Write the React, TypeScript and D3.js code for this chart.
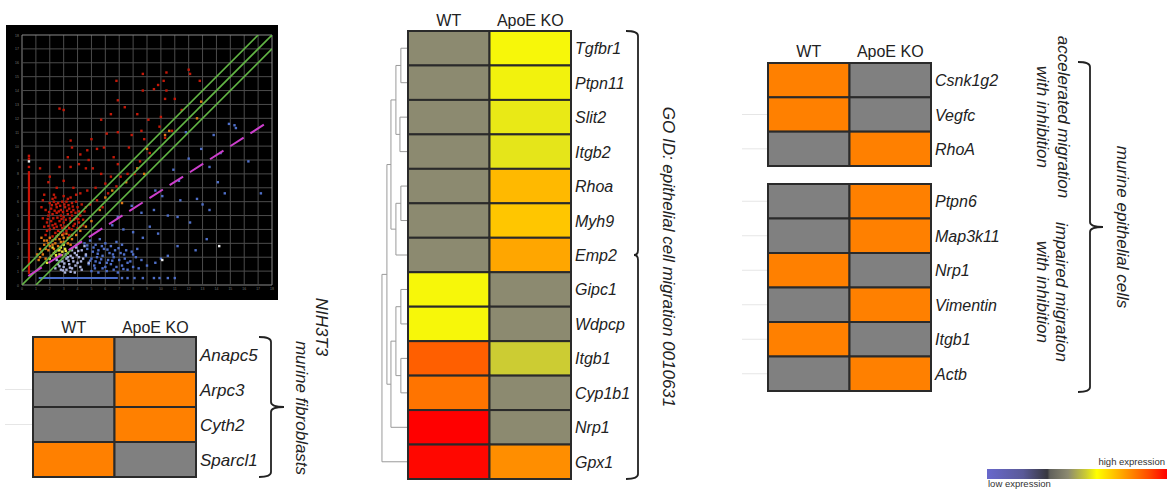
import React from 'react';
import * as d3 from 'd3';

// ---- scatter plot (log expression WT vs ApoE KO) ----
const scatterTicks = d3.range(0, 19);

const redPts = [
  [12.0,15.5],[12.1,15.2],[10.4,15.3],[8.7,15.2],[10.2,14.7],[9.8,14.4],[9.5,14.1],[10.4,14.0],[12.8,14.7],[8.7,14.0],
  [6.8,14.7],[6.9,13.3],[7.4,12.8],[6.4,12.3],[5.7,11.9],[2.7,12.7],[3.0,12.6],[10.3,13.4],[11.0,13.4],[10.0,12.1],
  [8.3,12.3],[9.1,11.9],[8.6,11.1],[9.9,11.4],[10.8,11.1],[6.9,11.0],[6.1,10.9],[5.0,10.5],[3.5,10.4],[3.6,9.9],
  [4.2,9.4],[4.7,9.7],[5.4,9.8],[5.9,9.9],[7.7,9.9],[8.8,10.5],[10.3,10.6],[6.6,9.2],[6.9,8.7],[4.8,9.0],
  [4.1,8.7],[6.4,7.8],[5.7,8.0],[5.1,8.4],[4.6,8.4],[3.5,8.5],[2.7,8.5],[2.0,7.8],[1.3,8.4],[3.0,7.5],
  [3.7,7.0],[2.5,7.0],[1.9,7.4],[1.5,6.1],[7.1,7.8],[8.1,8.0],[7.6,8.0],[6.0,7.3],[5.3,7.0],[4.7,6.8],
  [4.2,6.6],[5.4,6.1],[9.2,9.5],[8.5,8.9],[11.5,12.6],[7.9,10.8],[3.3,9.2],[2.3,6.5],[6.2,6.6],[6.8,7.1],
  [5.8,5.6],[4.9,5.8],
  [2.0,5.9],[2.3,6.0],[2.6,5.9],[2.9,6.0],[3.2,6.0],[3.6,5.9],[3.9,6.0],[2.1,5.5],[2.5,5.6],[2.8,5.4],
  [3.1,5.6],[3.4,5.5],[3.7,5.4],[4.0,5.6],[1.9,5.0],[2.2,5.1],[2.5,5.2],[2.8,5.0],[3.0,4.9],[3.3,5.1],
  [3.6,5.0],[3.9,4.8],[4.2,5.0],[1.8,4.5],[2.1,4.6],[2.4,4.4],[2.7,4.6],[3.0,4.5],[3.3,4.3],[3.5,4.6],
  [3.8,4.4],[4.1,4.5],[2.0,4.0],[2.3,4.1],[2.6,3.9],[2.9,4.1],[3.2,3.9],[3.6,4.0],[4.0,4.1],[4.4,4.3],
  [1.7,3.6],[2.2,3.5],[3.4,3.6],[1.6,4.2],[4.5,5.3],[1.7,5.4],[2.4,6.3],[3.0,6.4],[3.5,6.3],[4.3,5.8],
  [1.6,6.5],[3.9,6.5],
  [2.15,5.75],[2.45,5.8],[2.75,5.7],[3.05,5.8],[3.35,5.75],[3.65,5.65],[1.95,5.25],[2.35,5.35],[2.65,5.3],[2.95,5.25],
  [3.25,5.35],[3.55,5.25],[3.85,5.2],[4.1,5.3],[1.85,4.75],[2.25,4.8],[2.55,4.85],[2.85,4.75],[3.15,4.7],[3.45,4.8],
  [3.75,4.7],[4.05,4.75],[1.9,4.25],[2.2,4.3],[2.5,4.2],[2.8,4.3],[3.1,4.2],[3.4,4.1],[3.7,4.25],[4.2,4.2],
  [1.8,3.9],[2.4,3.75],[2.75,3.8],[3.0,3.7],[1.5,4.8],[1.4,5.6],[4.4,4.7],[4.6,5.6],[2.2,6.2],[3.3,6.2],
];

const orangePts = [
  [1.3,2.6],[1.6,2.9],[1.8,3.2],[2.0,3.4],[2.2,2.9],[2.4,3.3],[2.6,3.6],[2.8,3.1],[3.0,3.4],[3.2,3.7],
  [1.5,2.2],[1.9,2.5],[2.3,2.6],[2.6,2.8],[3.3,3.0],[3.6,3.3],[3.9,3.6],[1.2,1.8],[1.7,1.9],[4.2,3.9],
  [2.1,2.1],[1.4,3.4],[3.5,2.9],[5.6,5.4],[6.0,6.3],[6.5,6.8],[7.5,7.4],[8.3,8.4],[9.0,9.8],[10.3,10.8],
  [10.6,11.1],[12.9,13.2],[12.6,12.0],[7.2,5.9],[4.6,4.2],[5.0,4.6],[8.8,8.0],
  [1.4,2.4],[1.7,2.6],[2.0,2.8],[2.4,3.0],[2.7,3.3],[3.0,3.1],[3.3,3.4],[1.9,3.0],[2.2,3.2],[2.5,3.5],
  [1.6,3.2],[2.9,3.6],[3.6,3.6],[1.1,2.2],[1.3,2.0],
];

const yellowPts = [
  [2.3,2.3],[2.6,2.5],[2.9,2.4],[2.5,2.0],[2.8,2.7],[3.1,2.6],[2.2,2.7],[2.0,1.9],[3.3,2.3],[2.7,2.2],
  [1.8,1.6],[3.0,2.9],[2.4,2.4],[2.7,2.5],[2.45,2.15],[2.85,2.15],[3.15,2.45],
];

const palePts = [
  [2.6,1.5],[2.9,1.7],[3.2,1.9],[3.5,2.1],[3.8,2.3],[4.1,2.0],[3.0,1.3],[3.4,1.5],[3.7,1.7],[4.0,1.6],
  [4.4,1.9],[2.8,1.1],[3.2,1.1],[3.6,1.2],[4.3,2.5],[3.9,2.7],[3.3,2.0],[4.6,2.2],[2.4,1.2],[4.2,1.3],
  [3.1,0.9],[3.8,0.9],[4.8,1.6],[2.5,1.8],[4.5,2.8],
  [2.7,1.35],[3.05,1.55],[3.35,1.75],[3.65,1.95],[3.95,2.15],[4.25,1.7],[3.45,1.25],[3.85,1.4],[2.95,1.05],[3.5,0.95],
  [4.05,2.45],[3.15,2.2],[2.7,1.7],[4.3,1.1],[3.6,2.5],
];

const bluePts = [
  [4.5,3.0],[4.9,3.2],[5.3,2.9],[5.6,3.3],[6.0,3.0],[6.4,2.8],[6.8,3.1],[7.2,2.9],[4.7,2.6],[5.1,2.4],
  [5.5,2.5],[5.9,2.6],[6.3,2.3],[6.7,2.5],[7.1,2.3],[7.5,2.5],[7.9,2.4],[8.3,2.6],[4.6,2.1],[5.0,1.9],
  [5.4,2.0],[5.8,2.1],[6.2,1.8],[6.6,2.0],[7.0,1.8],[7.4,1.9],[7.8,1.7],[8.2,2.0],[8.6,1.8],[4.8,1.5],
  [5.2,1.4],[5.6,1.6],[6.0,1.3],[6.4,1.5],[6.8,1.3],[7.2,1.4],[5.0,1.0],[5.5,0.9],[6.1,1.0],[6.9,0.9],
  [7.6,1.1],[8.4,1.2],[9.0,1.4],[9.6,1.6],[10.0,1.9],[10.5,2.1],[11.2,2.8],[12.5,2.5],[13.3,3.3],
  [6.5,4.3],[7.3,4.0],[8.0,3.8],[8.7,3.4],[9.2,4.2],[9.8,3.7],[10.5,5.0],[11.2,4.9],[12.1,4.5],[8.6,5.2],
  [9.5,5.4],[10.1,6.4],[11.4,6.1],[12.6,6.2],[13.0,5.8],[13.5,5.4],[14.6,6.6],[16.3,8.9],[17.2,6.6],[13.5,8.5],
  [14.3,9.5],[14.9,11.6],[15.3,11.5],[13.8,10.8],[12.0,9.1],[11.3,7.5],[9.6,6.8],[7.9,5.7],[6.9,4.9],[11.8,11.0],
  [12.9,9.8],[14.1,7.4],[10.9,8.3],[15.4,11.3],
  [4.7,2.85],[5.15,2.7],[5.45,2.25],[5.75,2.8],[6.15,2.55],[6.55,2.2],[6.95,2.65],[7.35,2.2],[4.9,1.75],[5.3,1.7],
  [5.7,1.85],[6.1,1.6],[6.5,1.75],[7.6,1.6],[8.0,2.2],[5.25,1.2],[5.8,1.2],[6.6,1.1],[7.3,1.15],[8.0,1.3],
  [7.2,0.5],[7.6,0.5],[8.1,0.5],[8.7,0.5],[9.5,0.5],[9.9,0.5],[10.5,0.5],[11.0,0.5],
];

const whitePts = [[14.2,2.8],[10.1,1.8],[0.5,8.9]];
const redColumn = { x: 0.5, y0: 0.8, y1: 8.2 };
const redColumnTop = [[0.5,8.5],[0.5,9.1],[0.5,9.3]];
const blueRow = { y: 0.5, x0: 1.2, x1: 6.9 };

const foldLines = [0, 1, -1];
const trend = { x0: 0.45, y0: 0.65, x1: 17.5, y1: 11.6 };

// ---- heatmaps ----
const columns = ['WT', 'ApoE KO'];

const midGenes = ['Tgfbr1','Ptpn11','Slit2','Itgb2','Rhoa','Myh9','Emp2','Gipc1','Wdpcp','Itgb1','Cyp1b1','Nrp1','Gpx1'];
const midWT = [0.45,0.45,0.45,0.45,0.45,0.45,0.45,0.6,0.6,0.866,0.832,1.0,0.99];
const midKO = [0.6,0.595,0.584,0.58,0.72,0.70,0.75,0.45,0.45,0.55,0.45,0.45,0.79];

const fibroGenes = ['Anapc5','Arpc3','Cyth2','Sparcl1'];
const fibroWT = [1,0,0,1];
const fibroKO = [0,1,1,0];
const fibroFaint = ['Arpc3','Cyth2'];

const accelGenes = ['Csnk1g2','Vegfc','RhoA'];
const accelWT = [1,1,0];
const accelKO = [0,0,1];

const impairGenes = ['Ptpn6','Map3k11','Nrp1','Vimentin','Itgb1','Actb'];
const impairWT = [0,0,1,0,1,0];
const impairKO = [1,1,0,1,0,1];
const epiFaint = ['Vegfc','RhoA','Ptpn6','Map3k11','Nrp1','Vimentin','Itgb1','Actb'];

// legend colour ramp (low -> high expression)
const rampStops = [0, 0.2, 0.335, 0.35, 0.45, 0.55, 0.61, 0.76, 0.9, 1];
const rampColors = ['#6868cc','#5a5a98','#38383f','#62625c','#8c8a70','#cccc33','#ffff00','#ffa000','#ff4a00','#ff0000'];

// dendrogram merge heights for the middle heatmap
const dendro = {
  h: 0.84, children: [
    { h: 0.68, children: [
      { h: 0.55, children: [
        { h: 0.39, children: [
          { h: 0.23, children: [{ name: 'Tgfbr1' }, { name: 'Ptpn11' }] },
          { h: 0.26, children: [{ name: 'Slit2' }, { name: 'Itgb2' }] },
        ] },
        { h: 0.39, children: [
          { h: 0.23, children: [{ name: 'Rhoa' }, { name: 'Myh9' }] },
          { name: 'Emp2' },
        ] },
      ] },
      { h: 0.55, children: [
        { h: 0.39, children: [
          { h: 0.23, children: [{ name: 'Gipc1' }, { name: 'Wdpcp' }] },
          { h: 0.23, children: [{ name: 'Itgb1' }, { name: 'Cyp1b1' }] },
        ] },
        { name: 'Nrp1' },
      ] },
    ] },
    { name: 'Gpx1' },
  ],
};

const FONT = '"Liberation Sans", Arial, sans-serif';
const ORANGE = '#ff8000';
const GREY = '#808080';

function bracePath(x: number, y0: number, y1: number, hook: number, tip: number) {
  const r = 5;
  const ym = (y0 + y1) / 2;
  const p = d3.path();
  p.moveTo(x - hook, y0);
  p.quadraticCurveTo(x, y0, x, y0 + r);
  p.lineTo(x, ym - r);
  p.quadraticCurveTo(x, ym, x + tip, ym);
  p.quadraticCurveTo(x, ym, x, ym + r);
  p.lineTo(x, y1 - r);
  p.quadraticCurveTo(x, y1, x - hook, y1);
  return p.toString();
}

type HeatProps = {
  genes: string[];
  wt: number[];
  ko: number[];
  x0: number; x1: number; y0: number; y1: number;
  color: (v: number) => string;
  header?: number;
  faint?: string[];
  faintX?: number;
  labelSize?: number;
};

function Heat({ genes, wt, ko, x0, x1, y0, y1, color, header, faint = [], faintX = 0, labelSize = 16 }: HeatProps) {
  const xs = d3.scaleBand().domain(columns).range([x0, x1]);
  const ys = d3.scaleBand().domain(genes).range([y0, y1]);
  const bh = ys.bandwidth();
  return (
    <g>
      {faint.map((g) => (
        <line key={'f' + g} x1={faintX} x2={x0} y1={ys(g)! + bh / 2} y2={ys(g)! + bh / 2} stroke="#e6e6e6" strokeWidth={1} />
      ))}
      {header !== undefined && columns.map((c) => (
        <text key={c} x={xs(c)! + xs.bandwidth() / 2} y={header} textAnchor="middle" fontSize={16} fill="#222" fontFamily={FONT}>{c}</text>
      ))}
      {genes.map((g, i) => (
        <g key={g}>
          <rect x={xs('WT')} y={ys(g)} width={xs.bandwidth()} height={bh} fill={color(wt[i])} stroke="#2a2a2a" strokeWidth={2} />
          <rect x={xs('ApoE KO')} y={ys(g)} width={xs.bandwidth()} height={bh} fill={color(ko[i])} stroke="#2a2a2a" strokeWidth={2} />
          <text x={x1 + 4} y={ys(g)! + bh / 2 + 6} fontSize={labelSize} fontStyle="italic" fill="#222" fontFamily={FONT}>{g}</text>
        </g>
      ))}
    </g>
  );
}

function VText({ x, y, children, size = 17 }: { x: number; y: number; children: string; size?: number }) {
  return (
    <text transform={`translate(${x},${y}) rotate(90)`} textAnchor="middle" fontSize={size} fontStyle="italic" fill="#222" fontFamily={FONT}>{children}</text>
  );
}

export default function App() {
  const sx = d3.scaleLinear().domain([0, 18]).range([22, 272]);
  const sy = d3.scaleLinear().domain([0, 18]).range([285, 35]);

  const ramp = d3.scaleLinear<string>().domain(rampStops).range(rampColors).interpolate(d3.interpolateRgb).clamp(true);
  const binary = d3.scaleOrdinal<number, string>().domain([0, 1]).range([GREY, ORANGE]);

  // dendrogram layout
  const midY = d3.scaleBand().domain(midGenes).range([31, 479]);
  const dx = d3.scaleLinear().domain([0, 1]).range([408, 377]);
  const root = d3.hierarchy<any>(dendro);
  root.eachAfter((n: any) => {
    if (!n.children) {
      n.py = midY(n.data.name)! + midY.bandwidth() / 2;
      n.ph = 0;
    } else {
      n.py = (n.children[0].py + n.children[n.children.length - 1].py) / 2;
      n.ph = n.data.h;
    }
  });
  const dendroLines: { x1: number; y1: number; x2: number; y2: number }[] = [];
  root.each((n: any) => {
    if (!n.children) return;
    const first = n.children[0];
    const last = n.children[n.children.length - 1];
    dendroLines.push({ x1: dx(n.ph), y1: first.py, x2: dx(n.ph), y2: last.py });
    n.children.forEach((c: any) => dendroLines.push({ x1: dx(n.ph), y1: c.py, x2: dx(c.ph), y2: c.py }));
  });

  const pts = (data: number[][], fill: string, key: string) =>
    data.map((d, i) => <rect key={key + i} x={sx(d[0]) - 1.2} y={sy(d[1]) - 1.2} width={2.4} height={2.4} fill={fill} />);

  const legendX = d3.scaleLinear().domain([0, 1]).range([987, 1167]);

  return (
    <svg width={1167} height={489} style={{ position: 'absolute', left: 0, top: 0, background: '#fff' }}>
      <defs>
        <linearGradient id="ramp" x1="0" x2="1" y1="0" y2="0">
          {rampStops.map((s, i) => <stop key={i} offset={s} stopColor={rampColors[i]} />)}
        </linearGradient>
        <clipPath id="plotclip"><rect x={22} y={35} width={250} height={250} /></clipPath>
      </defs>

      {/* scatter panel */}
      <rect x={6} y={25} width={272} height={275} fill="#000" />
      {scatterTicks.map((t) => (
        <g key={'g' + t}>
          <line x1={sx(t)} x2={sx(t)} y1={sy(0)} y2={sy(18)} stroke={t === 0 || t === 18 ? '#8a8a8a' : '#4c4c4c'} strokeWidth={1} />
          <line x1={sx(0)} x2={sx(18)} y1={sy(t)} y2={sy(t)} stroke={t === 0 || t === 18 ? '#8a8a8a' : '#4c4c4c'} strokeWidth={1} />
          <text x={sx(0) - 3} y={sy(t) + 1.5} fontSize={3.5} textAnchor="end" fill="#777" fontFamily={FONT}>{t}</text>
          <text x={sx(t)} y={sy(0) + 5} fontSize={3.5} textAnchor="middle" fill="#777" fontFamily={FONT}>{t}</text>
        </g>
      ))}
      <g clipPath="url(#plotclip)">
        <line x1={sx(redColumn.x)} x2={sx(redColumn.x)} y1={sy(redColumn.y0)} y2={sy(redColumn.y1)} stroke="#c81408" strokeWidth={2.2} />
        {pts(redColumnTop, '#c81408', 'rc')}
        <line x1={sx(blueRow.x0)} x2={sx(blueRow.x1)} y1={sy(blueRow.y)} y2={sy(blueRow.y)} stroke="#4a6cc8" strokeWidth={2} />
        {pts(bluePts, '#4f6fc8', 'b')}
        {pts(palePts, '#aab2dc', 'p')}
        {pts(redPts, '#c41808', 'r')}
        {pts(orangePts, '#e07814', 'o')}
        {pts(yellowPts, '#e6e23a', 'y')}
        {pts(whitePts, '#eeeeee', 'w')}
        {foldLines.map((k) => (
          <line key={'fl' + k} x1={sx(Math.max(0, -k))} y1={sy(Math.max(0, -k) + k)} x2={sx(Math.min(18, 18 - k))} y2={sy(Math.min(18, 18 - k) + k)} stroke="#62b545" strokeWidth={1.6} />
        ))}
        <line x1={sx(trend.x0)} y1={sy(trend.y0)} x2={sx(trend.x1)} y2={sy(trend.y1)} stroke="#cc3fcc" strokeWidth={2} strokeDasharray="16,8" />
      </g>

      {/* bottom-left: NIH3T3 fibroblasts */}
      <Heat genes={fibroGenes} wt={fibroWT} ko={fibroKO} x0={33} x1={196} y0={337} y1={477} color={(v) => binary(v)} header={333} faint={fibroFaint} faintX={5} labelSize={17} />
      <path d={bracePath(271, 337, 477, 12, 13)} fill="none" stroke="#222" strokeWidth={1.8} />
      <VText x={296} y={408}>murine fibroblasts</VText>
      <VText x={316} y={327}>NIH3T3</VText>

      {/* middle: GO epithelial cell migration */}
      {dendroLines.map((l, i) => (
        <line key={'d' + i} x1={l.x1} y1={l.y1} x2={l.x2} y2={l.y2} stroke="#9a9a9a" strokeWidth={1} />
      ))}
      <Heat genes={midGenes} wt={midWT} ko={midKO} x0={408} x1={571} y0={31} y1={479} color={(v) => ramp(v)} header={26} />
      <path d={bracePath(638, 31, 479, 12, -4)} fill="none" stroke="#222" strokeWidth={1.8} />
      <VText x={663} y={257}>GO ID: epithelial cell migration 0010631</VText>

      {/* right: murine epithelial cells */}
      <Heat genes={accelGenes} wt={accelWT} ko={accelKO} x0={768} x1={931} y0={63} y1={166} color={(v) => binary(v)} header={57} faint={epiFaint.filter((g) => accelGenes.includes(g))} faintX={742} />
      <Heat genes={impairGenes} wt={impairWT} ko={impairKO} x0={768} x1={931} y0={184} y1={391} color={(v) => binary(v)} faint={epiFaint.filter((g) => impairGenes.includes(g))} faintX={742} />
      <path d={bracePath(1090, 62, 392, 12, 13)} fill="none" stroke="#222" strokeWidth={1.8} />
      <VText x={1058} y={117}>accelerated migration</VText>
      <VText x={1037} y={117}>with inhibition</VText>
      <VText x={1056} y={292}>impaired migration</VText>
      <VText x={1037} y={292}>with inhibition</VText>
      <VText x={1117} y={227}>murine epithelial cells</VText>

      {/* colour legend */}
      <rect x={legendX(0)} y={469} width={legendX(1) - legendX(0)} height={10} fill="url(#ramp)" />
      <text x={1165} y={465} fontSize={9.5} textAnchor="end" fill="#333" fontFamily={FONT}>high expression</text>
      <text x={988} y={487} fontSize={9.5} fill="#333" fontFamily={FONT}>low expression</text>
    </svg>
  );
}
